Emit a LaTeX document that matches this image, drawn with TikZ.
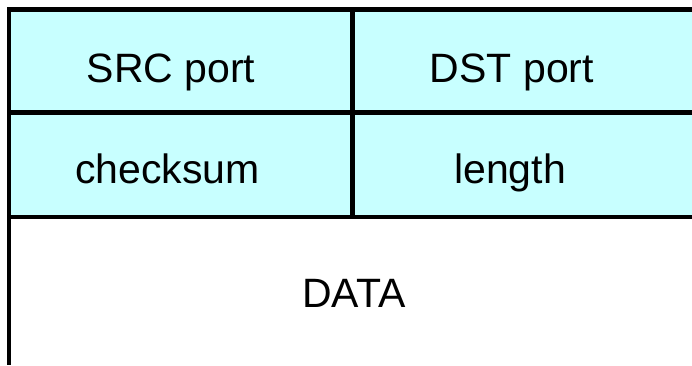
\documentclass[tikz,border=0pt]{standalone}
\usepackage{fontspec}
\setmainfont{Liberation Sans}
\usepackage{tikz}

\definecolor{headercyan}{RGB}{200,255,255}

\begin{document}
\begin{tikzpicture}[
      x=0.5pt,
      y=-0.5pt,
      frame/.style={draw=black, line width=2.4pt},
      field/.style={font=\fontsize{20.5}{24}\selectfont, anchor=base, inner sep=0pt}
    ]
    \useasboundingbox (0,0) rectangle (692,365);

    % header area
    \fill[headercyan] (9,9.5) rectangle (692,217);

    \coordinate (topleft) at (9,9.5);
    \coordinate (topright) at (692,9.5);
    \coordinate (botleft) at (9,365);
    \coordinate (row1l) at (9,112.5);
    \coordinate (row1r) at (692,112.5);
    \coordinate (row2l) at (9,217);
    \coordinate (row2r) at (692,217);
    \coordinate (midtop) at (352.5,9.5);
    \coordinate (midbot) at (352.5,217);

    \draw[frame] (topright) -- (topleft) -- (botleft);
    \draw[frame] (row1l) -- (row1r);
    \draw[frame] (row2l) -- (row2r);
    \draw[frame] (midtop) -- (midbot);

    \node[field] (srcport) at (171,82) {SRC port};
    \node[field] (dstport) at (512,82) {DST port};
    \node[field] (checksum) at (167.5,183) {checksum};
    \node[field] (length) at (510,183) {length};
    \node[field] (data) at (354,307) {DATA};
  \end{tikzpicture}
\end{document}
